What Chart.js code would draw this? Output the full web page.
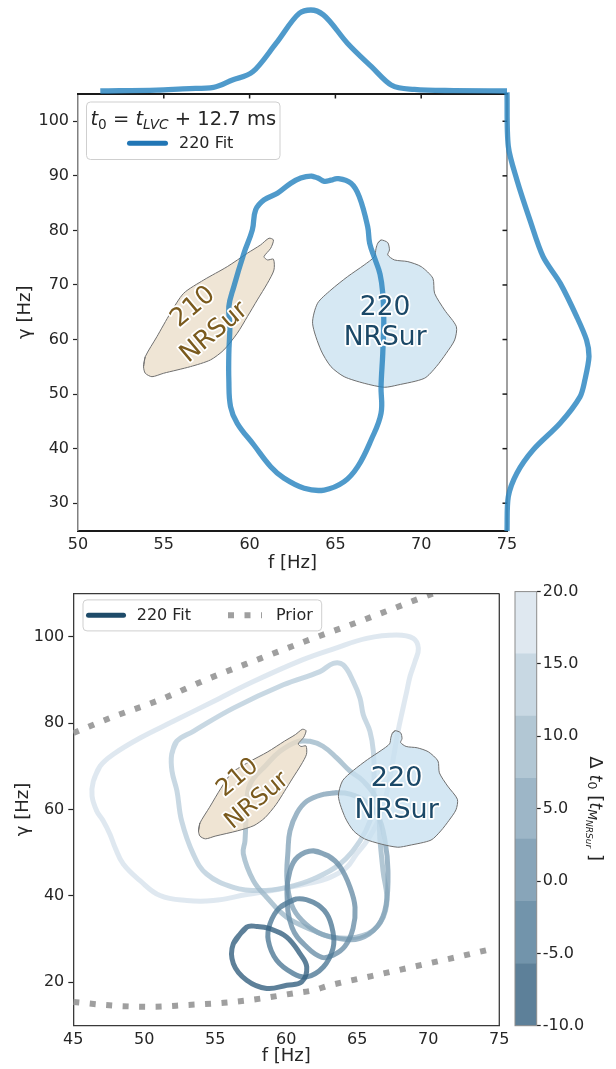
<!DOCTYPE html>
<html>
<head>
<meta charset="utf-8">
<title>220 fit in the f–γ plane</title>
<script src="https://cdn.jsdelivr.net/npm/chart.js@4.4.1/dist/chart.umd.min.js"></script>
<style>
  html, body { margin: 0; padding: 0; background: #ffffff; }
  #figure { position: relative; width: 616px; height: 1069px; overflow: hidden; background: #ffffff; }
  #figure canvas { position: absolute; }
</style>
</head>
<body>
<div id="figure">
  <canvas id="fitMain" width="616" height="580" style="left:0px;top:0px"></canvas>
  <canvas id="freqMarginal" width="616" height="97" style="left:0px;top:0px"></canvas>
  <canvas id="dampMarginal" width="110" height="457" style="left:497px;top:84px"></canvas>
  <canvas id="scanMain" width="616" height="489" style="left:0px;top:580px"></canvas>
  <canvas id="scanColorbar" width="116" height="489" style="left:500px;top:580px"></canvas>
</div>
<script>
// ---------- tick values ----------
const fitFreqTicks = [50, 55, 60, 65, 70, 75];
const fitDampTicks = [30, 40, 50, 60, 70, 80, 90, 100];
const scanFreqTicks = [45, 50, 55, 60, 65, 70, 75];
const scanDampTicks = [20, 40, 60, 80, 100];
const colorbarTicks = [-10, -5, 0, 5, 10, 15, 20];

// ---------- NRSur 90% regions for the 210 and 220 modes (f [Hz], gamma [Hz]) ----------
const nr210Freq = [53.82, 53.92, 54.60, 55.38, 56.16, 57.33, 58.70, 59.87, 60.64, 61.13, 61.39, 61.23, 60.84, 61.04, 61.39, 61.42, 61.04, 60.45, 59.87, 59.28, 58.50, 57.72, 56.55, 54.99, 54.31, 53.92];
const nr210Damp = [55.03, 56.86, 60.53, 64.82, 68.48, 70.92, 73.36, 75.82, 77.34, 78.57, 78.25, 76.73, 75.19, 74.59, 74.72, 72.76, 70.32, 67.26, 64.19, 61.15, 58.09, 56.26, 55.03, 53.82, 53.19, 53.82];
const nr220Freq = [67.47, 67.66, 68.05, 68.15, 68.05, 68.44, 69.22, 70.00, 70.68, 70.78, 71.36, 72.05, 71.95, 71.46, 70.88, 70.19, 68.64, 67.85, 66.68, 65.51, 64.74, 64.15, 63.67, 63.96, 64.74, 65.71, 66.68, 67.27, 67.37];
const nr220Damp = [77.65, 78.25, 77.76, 76.42, 75.51, 74.59, 74.28, 73.36, 71.23, 68.48, 65.42, 62.36, 59.92, 57.48, 55.03, 52.90, 51.67, 51.25, 51.98, 53.19, 55.03, 58.09, 62.98, 66.65, 69.09, 71.53, 73.67, 75.19, 76.73];

// ---------- 220 fit, t0 = t_LVC + 12.7 ms: 90% contour ----------
const fitFreq = [63.57, 63.98, 64.35, 64.74, 65.13, 65.91, 66.39, 66.88, 67.00, 67.30, 67.60, 67.76, 67.82, 67.76, 67.66, 67.66, 67.08, 66.30, 65.51, 64.35, 63.18, 62.01, 61.23, 60.25, 59.28, 58.89, 58.79, 58.79, 58.85, 58.79, 59.08, 59.67, 60.16, 60.35, 60.84, 61.62, 62.40, 62.98];
const fitDamp = [89.96, 89.60, 89.00, 89.20, 89.50, 88.65, 86.20, 80.70, 77.60, 74.80, 72.00, 68.50, 63.59, 57.48, 51.36, 46.49, 41.59, 36.70, 33.95, 32.42, 32.74, 34.57, 36.70, 40.67, 44.65, 47.70, 52.59, 57.48, 62.36, 66.03, 69.69, 75.82, 80.09, 83.75, 85.59, 86.81, 88.65, 89.60];

// ---------- 1D marginals of the same fit ----------
const freqGrid = [51.3, 54.6, 56.5, 57.9, 59.0, 60.2, 61.55, 62.9, 63.57, 64.3, 65.7, 67.1, 68.25, 69.6, 71.9, 75.0];
const freqDensity = [0, 0.012, 0.03, 0.045, 0.136, 0.24, 0.59, 0.96, 1.0, 0.94, 0.59, 0.30, 0.074, 0.02, 0.005, 0];
const dampGrid = [105.3, 95.4, 89.3, 81.9, 75.2, 70.3, 64.2, 59.9, 56.9, 52.6, 49.5, 44.7, 39.8, 35.5, 31.2, 24.9];
const dampDensity = [0, 0.016, 0.12, 0.28, 0.44, 0.65, 0.85, 0.97, 1.0, 0.95, 0.89, 0.65, 0.32, 0.12, 0.016, 0];

// ---------- start-time scan: 220 fit contours for each delta t0 [t_M] ----------
const scanDeltaT0 = [17.9, 13.6, 9.3, 5.0, 0.7, -3.6, -7.9];
const scanFreq = [
  [46.41, 46.88, 47.82, 49.70, 52.04, 54.86, 57.68, 61.13, 63.44, 65.66, 67.77, 68.94, 69.30, 69.06, 68.71, 68.48, 68.22, 67.87, 67.44, 67.02, 66.46, 65.68, 64.96, 64.25, 63.08, 61.44, 59.56, 57.21, 54.86, 52.99, 51.11, 49.70, 48.52, 47.94, 47.58, 47.11, 46.65, 46.32],
  [51.93, 52.28, 53.45, 56.27, 59.79, 62.37, 63.31, 64.01, 64.72, 65.19, 65.42, 65.89, 66.13, 66.18, 66.13, 65.89, 65.19, 63.78, 61.90, 60.03, 58.15, 56.27, 54.39, 53.45, 52.63, 52.30, 51.95],
  [60.82, 61.67, 62.58, 63.55, 64.49, 65.42, 66.37, 66.60, 66.81, 67.07, 66.37, 64.96, 63.31, 61.90, 60.03, 58.62, 57.68, 56.97, 57.09, 57.21, 57.44, 58.62, 59.56],
  [62.61, 63.55, 64.49, 65.54, 66.46, 66.95, 67.16, 67.02, 66.46, 65.19, 63.64, 62.23, 61.11, 60.40, 60.05, 60.12, 60.26, 60.75, 61.46],
  [61.90, 62.94, 63.78, 64.49, 64.84, 64.70, 64.13, 63.29, 62.51, 61.46, 60.40, 60.05, 60.26, 60.82],
  [60.73, 59.56, 58.85, 58.73, 59.32, 60.49, 61.44, 62.61, 63.29, 63.29, 62.85, 61.90],
  [57.21, 56.27, 56.27, 57.21, 58.62, 60.03, 61.08, 61.44, 60.96, 60.03, 58.85, 57.92]
];
const scanDamp = [
  [66.57, 70.03, 72.80, 76.56, 80.41, 85.02, 89.63, 94.64, 97.31, 99.62, 100.40, 99.62, 97.31, 94.24, 90.79, 87.33, 83.47, 78.10, 70.03, 63.11, 57.34, 52.73, 49.73, 46.57, 44.27, 42.75, 41.59, 40.28, 38.90, 38.90, 40.05, 43.51, 47.36, 51.19, 54.28, 57.34, 59.65, 63.11],
  [72.80, 75.79, 78.10, 83.47, 88.87, 91.93, 93.85, 93.48, 89.63, 85.78, 81.95, 78.10, 73.49, 67.72, 61.96, 57.34, 52.73, 47.36, 43.90, 41.96, 41.20, 41.96, 45.05, 49.66, 57.34, 64.26, 68.87],
  [75.79, 75.79, 74.64, 71.94, 68.87, 66.57, 61.96, 52.73, 45.81, 38.13, 32.74, 30.43, 30.43, 31.98, 35.04, 39.66, 43.51, 49.73, 52.73, 60.41, 65.81, 70.42, 73.49],
  [63.50, 63.87, 63.57, 61.96, 58.50, 52.73, 45.81, 37.74, 33.13, 30.13, 30.13, 31.52, 34.28, 37.74, 43.51, 50.43, 55.04, 59.19, 61.96],
  [50.43, 49.27, 46.74, 41.96, 37.35, 32.44, 28.29, 26.21, 25.75, 28.06, 32.67, 40.51, 45.81, 49.04],
  [39.29, 37.35, 33.52, 29.67, 25.06, 21.99, 21.21, 23.51, 27.83, 31.52, 35.83, 38.50],
  [32.74, 28.91, 24.30, 20.45, 18.53, 19.29, 20.05, 23.51, 26.60, 30.43, 32.37, 32.90]
];

// ---------- prior boundaries ----------
const priorUpperFreq = [45.0, 47.6, 51.1, 54.6, 58.2, 61.7, 65.2, 67.5, 69.9, 72.0];
const priorUpperDamp = [77.7, 81.2, 85.4, 90.4, 95.0, 99.4, 103.6, 106.5, 109.5, 112.0];
const priorLowerFreq = [45.0, 48.1, 50.6, 53.0, 55.6, 58.2, 60.5, 61.9, 63.0, 66.0, 69.0, 72.0, 74.5];
const priorLowerDamp = [15.4, 14.5, 14.3, 14.7, 15.2, 16.2, 17.4, 18.1, 19.2, 21.4, 23.6, 25.8, 27.7];

// ---------- colour bar levels (delta t0) ----------
const colorbarLevels = [-10, -5.7, -1.4, 2.9, 7.1, 11.4, 15.7, 20];

// ---------- styling ----------
const FONT = '"DejaVu Sans", "Liberation Sans", sans-serif';
const INK = '#262626';
const bandColors = ['#5d8099', '#7294ab', '#88a5b9', '#9db6c7', '#b2c7d4', '#c8d8e3', '#dfe8f0'];
const bandLineColors = ['rgba(53,96,128,0.8)', 'rgba(79,121,150,0.8)', 'rgba(106,143,168,0.8)', 'rgba(133,164,185,0.8)',
                        'rgba(159,185,201,0.8)', 'rgba(186,206,220,0.8)', 'rgba(215,226,236,0.8)'];
const fitBlue = 'rgba(40,132,192,0.82)';

Chart.defaults.font.family = FONT;
Chart.defaults.font.size = 16;
Chart.defaults.color = INK;
Chart.defaults.animation = false;

const toPoints = (xs, ys) => xs.map((v, i) => ({x: v, y: ys[i]}));
const closed = (xs, ys) => { const p = toPoints(xs, ys); return p.concat(p.slice(0, 2)); };
const fixedTicks = values => scale => { scale.ticks = values.map(v => ({value: v})); };
const bandOf = v => { for (let i = 0; i < colorbarLevels.length - 1; i++) if (v >= colorbarLevels[i] && v < colorbarLevels[i + 1]) return i; return colorbarLevels.length - 2; };

function strokeLine(ctx, x1, y1, x2, y2) { ctx.beginPath(); ctx.moveTo(x1, y1); ctx.lineTo(x2, y2); ctx.stroke(); }
function roundRect(ctx, x, y, w, h, r) {
  ctx.beginPath();
  ctx.moveTo(x + r, y); ctx.lineTo(x + w - r, y); ctx.quadraticCurveTo(x + w, y, x + w, y + r);
  ctx.lineTo(x + w, y + h - r); ctx.quadraticCurveTo(x + w, y + h, x + w - r, y + h);
  ctx.lineTo(x + r, y + h); ctx.quadraticCurveTo(x, y + h, x, y + h - r);
  ctx.lineTo(x, y + r); ctx.quadraticCurveTo(x, y, x + r, y); ctx.closePath();
}
// draws a run of text pieces with italics and sub/sub-subscripts, returns width
function mathRun(ctx, segs, x, y, size, draw) {
  let cx = x;
  for (const s of segs) {
    const fs = size * (s.scale || 1);
    ctx.font = (s.it ? 'italic ' : '') + fs + 'px ' + FONT;
    if (draw) ctx.fillText(s.t, cx, y + (s.dy || 0) * size);
    cx += ctx.measureText(s.t).width;
  }
  return cx - x;
}
function modeLabel(chart, lines, f, g, angle, size, spacing, color) {
  const {ctx, scales: {x, y}} = chart;
  ctx.save();
  ctx.translate(x.getPixelForValue(f), y.getPixelForValue(g));
  ctx.rotate(angle * Math.PI / 180);
  ctx.textAlign = 'center'; ctx.textBaseline = 'middle';
  ctx.font = size + 'px ' + FONT;
  ctx.lineJoin = 'round';
  lines.forEach((t, i) => {
    const ty = (i - (lines.length - 1) / 2) * spacing;
    ctx.lineWidth = 3.5; ctx.strokeStyle = '#ffffff'; ctx.strokeText(t, 0, ty);
    ctx.fillStyle = color; ctx.fillText(t, 0, ty);
  });
  ctx.restore();
}

const legendTitle = [
  {t: 't', it: true}, {t: '0', scale: 0.7, dy: 0.22}, {t: ' = '},
  {t: 't', it: true}, {t: 'LVC', it: true, scale: 0.7, dy: 0.22}, {t: ' + 12.7 ms'}
];
const colorbarTitle = [
  {t: 'Δ '}, {t: 't', it: true}, {t: '0', scale: 0.7, dy: 0.22}, {t: ' ['},
  {t: 't', it: true}, {t: 'M', it: true, scale: 0.7, dy: 0.22}, {t: 'NRSur', it: true, scale: 0.5, dy: 0.38}, {t: ' ]'}
];

// ---------- shared dataset styles ----------
const nrRegion = (fs, gs, fill, order) => ({
  data: closed(fs, gs), showLine: true, fill: 'shape', backgroundColor: fill,
  borderColor: '#6f6f6f', borderWidth: 1, pointRadius: 0, tension: 0.25, order
});

// ================= top panel: single start time =================
const fitDecor = {
  id: 'fitDecor',
  afterDraw(chart) {
    const {ctx, chartArea: a, scales: {x, y}} = chart;
    ctx.save();
    // outer spines
    ctx.strokeStyle = '#1a1a1a'; ctx.lineWidth = 2;
    strokeLine(ctx, a.left - 1, a.top, a.right + 1, a.top);
    ctx.strokeStyle = '#808080'; ctx.lineWidth = 1.5;
    strokeLine(ctx, a.right, a.top, a.right, a.bottom);
    // marginal axes ticks
    ctx.strokeStyle = '#1a1a1a'; ctx.lineWidth = 1.5;
    fitFreqTicks.slice(1, -1).forEach(f => { const px = x.getPixelForValue(f); strokeLine(ctx, px, a.top, px, a.top + 4.5); });
    fitDampTicks.forEach(g => { const py = y.getPixelForValue(g); strokeLine(ctx, a.right - 4.5, py, a.right, py); });
    ctx.restore();

    modeLabel(chart, ['210', 'NRSur'], 57.33, 63.6, -40, 25.5, 33, '#7a5a1d');
    modeLabel(chart, ['220', 'NRSur'], 67.9, 63.0, 0, 26.5, 30, '#1b4867');

    // legend
    ctx.save();
    const bx = a.left + 8.5, by = a.top + 8, bw = 193.5, bh = 57.5;
    roundRect(ctx, bx, by, bw, bh, 4);
    ctx.fillStyle = 'rgba(255,255,255,0.85)'; ctx.fill();
    ctx.strokeStyle = '#cfcfcf'; ctx.lineWidth = 1; ctx.stroke();
    ctx.fillStyle = INK; ctx.textBaseline = 'alphabetic'; ctx.textAlign = 'left';
    const tw = mathRun(ctx, legendTitle, 0, 0, 19.5, false);
    mathRun(ctx, legendTitle, bx + bw / 2 - tw / 2, by + 23, 19.5, true);
    ctx.strokeStyle = '#2176b5'; ctx.lineWidth = 5; ctx.lineCap = 'round';
    strokeLine(ctx, bx + 43, by + 41.3, bx + 79, by + 41.3);
    ctx.font = '16px ' + FONT; ctx.textBaseline = 'middle';
    ctx.fillText('220 Fit', bx + 92.5, by + 41.8);
    ctx.restore();
  }
};

new Chart(document.getElementById('fitMain'), {
  type: 'scatter',
  data: {
    datasets: [
      {label: '220 Fit', data: closed(fitFreq, fitDamp), showLine: true, fill: false, borderColor: fitBlue,
       borderWidth: 5.3, pointRadius: 0, tension: 0.4, order: 0},
      nrRegion(nr210Freq, nr210Damp, '#efe5d5', 1),
      nrRegion(nr220Freq, nr220Damp, '#d6e8f3', 2)
    ]
  },
  options: {
    responsive: false, animation: false, events: [],
    layout: {padding: {top: 94, right: 109, left: 0, bottom: 0}},
    plugins: {legend: {display: false}, tooltip: {enabled: false}},
    scales: {
      x: {
        type: 'linear', min: 50, max: 75,
        afterBuildTicks: fixedTicks(fitFreqTicks),
        afterFit: s => { s.height = 49.5; },
        grid: {drawOnChartArea: false, drawTicks: false},
        border: {display: true, color: '#1a1a1a', width: 2},
        ticks: {padding: 5, color: INK, font: {size: 16}, maxRotation: 0, autoSkip: false},
        title: {display: true, text: 'f [Hz]', color: INK, font: {size: 18}, padding: {top: 0, bottom: 6}}
      },
      y: {
        type: 'linear', min: 25, max: 105,
        afterBuildTicks: fixedTicks(fitDampTicks),
        afterFit: s => { s.width = 78; },
        grid: {drawOnChartArea: false, drawTicks: true, tickLength: 5, tickColor: INK, tickWidth: 1.2},
        border: {display: true, color: '#808080', width: 1.5},
        ticks: {padding: 4, color: INK, font: {size: 16}, autoSkip: false},
        title: {display: true, text: 'γ [Hz]', color: INK, font: {size: 18}, padding: {top: 14.5, bottom: 0}}
      }
    }
  },
  plugins: [fitDecor]
});

// marginal of f (above)
new Chart(document.getElementById('freqMarginal'), {
  type: 'scatter',
  data: {datasets: [{data: toPoints(freqGrid, freqDensity), showLine: true, borderColor: fitBlue, borderWidth: 5.3,
                     pointRadius: 0, cubicInterpolationMode: 'monotone', clip: false}]},
  options: {
    responsive: false, animation: false, events: [],
    layout: {padding: {top: 10, right: 109, left: 78, bottom: 6}},
    plugins: {legend: {display: false}, tooltip: {enabled: false}},
    scales: {x: {type: 'linear', min: 50, max: 75, display: false}, y: {type: 'linear', min: 0, max: 1, display: false}}
  }
});

// marginal of gamma (right)
new Chart(document.getElementById('dampMarginal'), {
  type: 'scatter',
  data: {datasets: [{data: toPoints(dampDensity, dampGrid), showLine: true, borderColor: fitBlue, borderWidth: 5.3,
                     pointRadius: 0, tension: 0.3, clip: false}]},
  options: {
    responsive: false, animation: false, events: [],
    layout: {padding: {top: 10, right: 18, left: 10, bottom: 10.5}},
    plugins: {legend: {display: false}, tooltip: {enabled: false}},
    scales: {x: {type: 'linear', min: 0, max: 1, display: false}, y: {type: 'linear', min: 25, max: 105, display: false}}
  }
});

// ================= bottom panel: start-time scan =================
const scanDecor = {
  id: 'scanDecor',
  afterDraw(chart) {
    const {ctx, chartArea: a} = chart;
    ctx.save();
    ctx.strokeStyle = '#3a3a3a'; ctx.lineWidth = 1.3;
    strokeLine(ctx, a.left, a.top, a.right, a.top);
    strokeLine(ctx, a.right, a.top, a.right, a.bottom);
    ctx.restore();

    modeLabel(chart, ['210', 'NRSur'], 57.27, 64.65, -40, 24, 30, '#7a5a1d');
    modeLabel(chart, ['220', 'NRSur'], 67.77, 63.34, 0, 27, 32, '#1b4867');

    // legend
    ctx.save();
    const bx = a.left + 9.7, by = a.top + 6.3, bw = 238.7, bh = 31;
    roundRect(ctx, bx, by, bw, bh, 4);
    ctx.fillStyle = 'rgba(255,255,255,0.85)'; ctx.fill();
    ctx.strokeStyle = '#cfcfcf'; ctx.lineWidth = 1; ctx.stroke();
    const ly = by + 15.3;
    ctx.strokeStyle = '#1e4b69'; ctx.lineWidth = 5; ctx.lineCap = 'round';
    strokeLine(ctx, bx + 5.5, ly, bx + 40.5, ly);
    ctx.strokeStyle = '#9f9f9f'; ctx.lineWidth = 6; ctx.lineCap = 'butt'; ctx.setLineDash([6, 10.5]);
    strokeLine(ctx, bx + 145, ly, bx + 179, ly);
    ctx.setLineDash([]);
    ctx.fillStyle = INK; ctx.font = '16px ' + FONT; ctx.textBaseline = 'middle'; ctx.textAlign = 'left';
    ctx.fillText('220 Fit', bx + 53.7, ly + 0.5);
    ctx.fillText('Prior', bx + 193, ly + 0.5);
    ctx.restore();
  }
};

const scanDatasets = [
  nrRegion(nr210Freq, nr210Damp, 'rgba(234,220,199,0.78)', 0),
  nrRegion(nr220Freq, nr220Damp, 'rgba(200,224,239,0.78)', 0)
];
scanDeltaT0.forEach((dt, i) => {
  scanDatasets.push({
    label: 'Δt0 = ' + dt, data: closed(scanFreq[i], scanDamp[i]), showLine: true, fill: false,
    borderColor: bandLineColors[bandOf(dt)], borderWidth: 5, pointRadius: 0, tension: 0.4, order: 1 + bandOf(dt)
  });
});
[[priorUpperFreq, priorUpperDamp], [priorLowerFreq, priorLowerDamp]].forEach(([fs, gs]) => {
  scanDatasets.push({
    label: 'Prior', data: toPoints(fs, gs), showLine: true, fill: false, borderColor: '#9f9f9f', borderWidth: 6,
    borderDash: [6, 10.5], borderCapStyle: 'butt', pointRadius: 0, cubicInterpolationMode: 'monotone', order: 20
  });
});

new Chart(document.getElementById('scanMain'), {
  type: 'scatter',
  data: {datasets: scanDatasets},
  options: {
    responsive: false, animation: false, events: [],
    layout: {padding: {top: 11.7, right: 116.7, left: 0, bottom: 0}},
    plugins: {legend: {display: false}, tooltip: {enabled: false}},
    scales: {
      x: {
        type: 'linear', min: 45, max: 75,
        afterBuildTicks: fixedTicks(scanFreqTicks),
        afterFit: s => { s.height = 43.7; },
        grid: {drawOnChartArea: false, drawTicks: false},
        border: {display: true, color: '#3a3a3a', width: 1.3},
        ticks: {padding: 5, color: INK, font: {size: 16}, maxRotation: 0, autoSkip: false},
        title: {display: true, text: 'f [Hz]', color: INK, font: {size: 18}, padding: {top: 0, bottom: 1.5}}
      },
      y: {
        type: 'linear', min: 10, max: 110,
        afterBuildTicks: fixedTicks(scanDampTicks),
        afterFit: s => { s.width = 73.3; },
        grid: {drawOnChartArea: false, drawTicks: true, tickLength: 5, tickColor: INK, tickWidth: 1.2},
        border: {display: true, color: '#3a3a3a', width: 1.3},
        ticks: {padding: 4, color: INK, font: {size: 16}, autoSkip: false},
        title: {display: true, text: 'γ [Hz]', color: INK, font: {size: 18}, padding: {top: 12.5, bottom: 0}}
      }
    }
  },
  plugins: [scanDecor]
});

// colour bar for delta t0
const colorbarDecor = {
  id: 'colorbarDecor',
  afterDraw(chart) {
    const {ctx, chartArea: a} = chart;
    ctx.save();
    ctx.strokeStyle = '#8c8c8c'; ctx.lineWidth = 1;
    ctx.strokeRect(a.left, a.top, a.right - a.left, a.bottom - a.top);
    ctx.translate(95, (a.top + a.bottom) / 2);
    ctx.rotate(Math.PI / 2);
    ctx.fillStyle = INK; ctx.textBaseline = 'middle'; ctx.textAlign = 'left';
    const w = mathRun(ctx, colorbarTitle, 0, 0, 18, false);
    mathRun(ctx, colorbarTitle, -w / 2, 0, 18, true);
    ctx.restore();
  }
};

new Chart(document.getElementById('scanColorbar'), {
  type: 'bar',
  data: {
    labels: [''],
    datasets: bandColors.map((c, i) => ({
      data: [[colorbarLevels[i], colorbarLevels[i + 1]]], backgroundColor: c, borderWidth: 0,
      grouped: false, barPercentage: 1, categoryPercentage: 1
    }))
  },
  options: {
    responsive: false, animation: false, events: [],
    layout: {padding: {left: 15, top: 11, right: 0, bottom: 43.3}},
    plugins: {legend: {display: false}, tooltip: {enabled: false}},
    scales: {
      x: {display: false},
      y: {
        position: 'right', min: -10, max: 20,
        afterBuildTicks: fixedTicks(colorbarTicks),
        afterFit: s => { s.width = 79.3; },
        grid: {drawOnChartArea: false, drawTicks: true, tickLength: 4, tickColor: INK, tickWidth: 1.2},
        border: {display: false},
        ticks: {padding: 2, color: INK, font: {size: 16}, autoSkip: false, callback: v => Number(v).toFixed(1)}
      }
    }
  },
  plugins: [colorbarDecor]
});
</script>
</body>
</html>
